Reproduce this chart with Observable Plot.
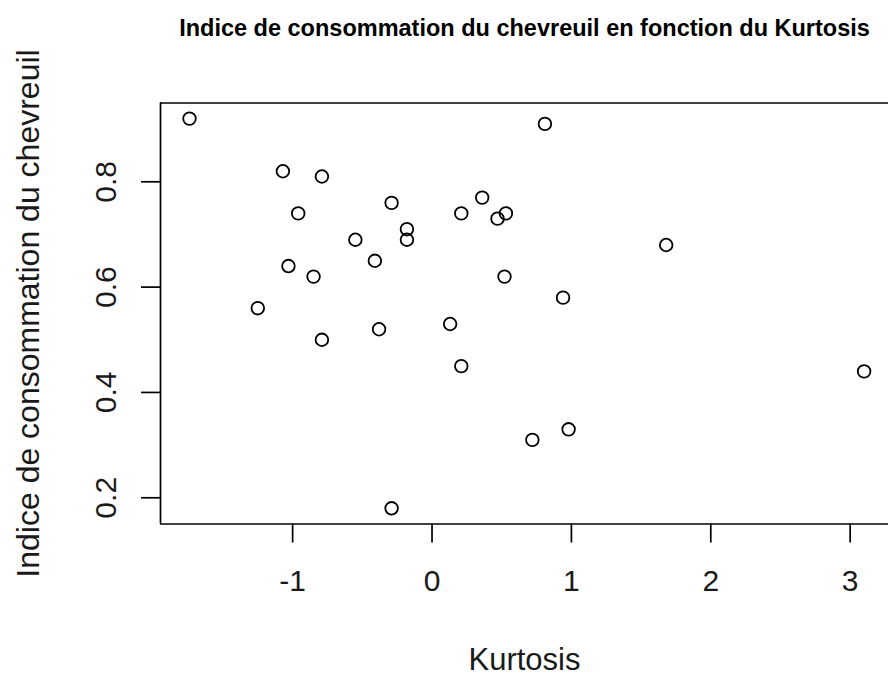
<!DOCTYPE html>
<html>
<head>
<meta charset="utf-8">
<script src="https://cdn.jsdelivr.net/npm/d3@7"></script>
<script src="https://cdn.jsdelivr.net/npm/@observablehq/plot@0.6"></script>
<style>
  html, body { margin: 0; padding: 0; background: #fff; }
</style>
</head>
<body>
<div id="chart"></div>
<script>
const title = "Indice de consommation du chevreuil en fonction du Kurtosis";
const xLabel = "Kurtosis";
const yLabel = "Indice de consommation du chevreuil";

const kurtosis = [-1.74, -1.07, -0.79, -0.96, -0.29, -0.18, -0.18, -0.55, -0.41, -1.03, -0.85,
                  0.81, 0.36, 0.21, 0.47, 0.53, 1.68, 0.52,
                  -1.25, -0.38, -0.79, -0.29,
                  0.94, 0.13, 0.21, 3.10, 0.98, 0.72];
const indice = [0.92, 0.82, 0.81, 0.74, 0.76, 0.71, 0.69, 0.69, 0.65, 0.64, 0.62,
                0.91, 0.77, 0.74, 0.73, 0.74, 0.68, 0.62,
                0.56, 0.52, 0.50, 0.18,
                0.58, 0.53, 0.45, 0.44, 0.33, 0.31];

const xTicks = [-1, 0, 1, 2, 3];
const yTicks = [0.2, 0.4, 0.6, 0.8];

const xDomain = [-1.948, 3.275];
const yDomain = [0.1502, 0.9496];

const points = kurtosis.map((k, i) => ({k, v: indice[i]}));

const font = "'Liberation Sans', Arial, Helvetica, sans-serif";

const chart = Plot.plot({
  width: 888,
  height: 675,
  marginLeft: 160,
  marginRight: 0,
  marginTop: 102.5,
  marginBottom: 151.5,
  style: {fontFamily: font, background: "#fff", color: "#000", overflow: "visible"},
  x: {domain: xDomain, label: null},
  y: {domain: yDomain, label: null},
  marks: [
    Plot.ruleX([xDomain[0]], {stroke: "#000", strokeWidth: 1.7}),
    Plot.ruleY([yDomain[0], yDomain[1]], {stroke: "#000", strokeWidth: 1.7}),
    Plot.axisX({ticks: xTicks, tickSize: 19, tickPadding: 27, fontSize: 30, strokeWidth: 1.7, stroke: "#000", fill: "#1a1a1a", tickFormat: d => d < 0 ? "-" + Math.abs(d) : String(d), label: null}),
    Plot.axisY({ticks: yTicks, tickSize: 19, strokeWidth: 1.7, stroke: "#000", tickFormat: () => "", label: null}),
    Plot.text(yTicks, {y: d => d, text: d => d.toFixed(1), frameAnchor: "left", dx: -45, rotate: -90,
      textAnchor: "middle", lineAnchor: "bottom", fontSize: 30, fill: "#1a1a1a"}),
    Plot.dot(points, {x: "k", y: "v", r: 6.3, stroke: "#000", strokeWidth: 1.8, fill: "none"}),
    Plot.text([title], {frameAnchor: "top", dy: -67, lineAnchor: "bottom", textAnchor: "middle",
      fontSize: 23.5, fontWeight: "bold", fill: "#000"}),
    Plot.text([xLabel], {frameAnchor: "bottom", dy: 145.5, lineAnchor: "bottom", textAnchor: "middle",
      fontSize: 31, fill: "#1a1a1a"}),
    Plot.text([yLabel], {frameAnchor: "left", dx: -122, rotate: -90, lineAnchor: "bottom", textAnchor: "middle",
      fontSize: 32, fill: "#1a1a1a"})
  ]
});

document.getElementById("chart").appendChild(chart);
</script>
</body>
</html>
